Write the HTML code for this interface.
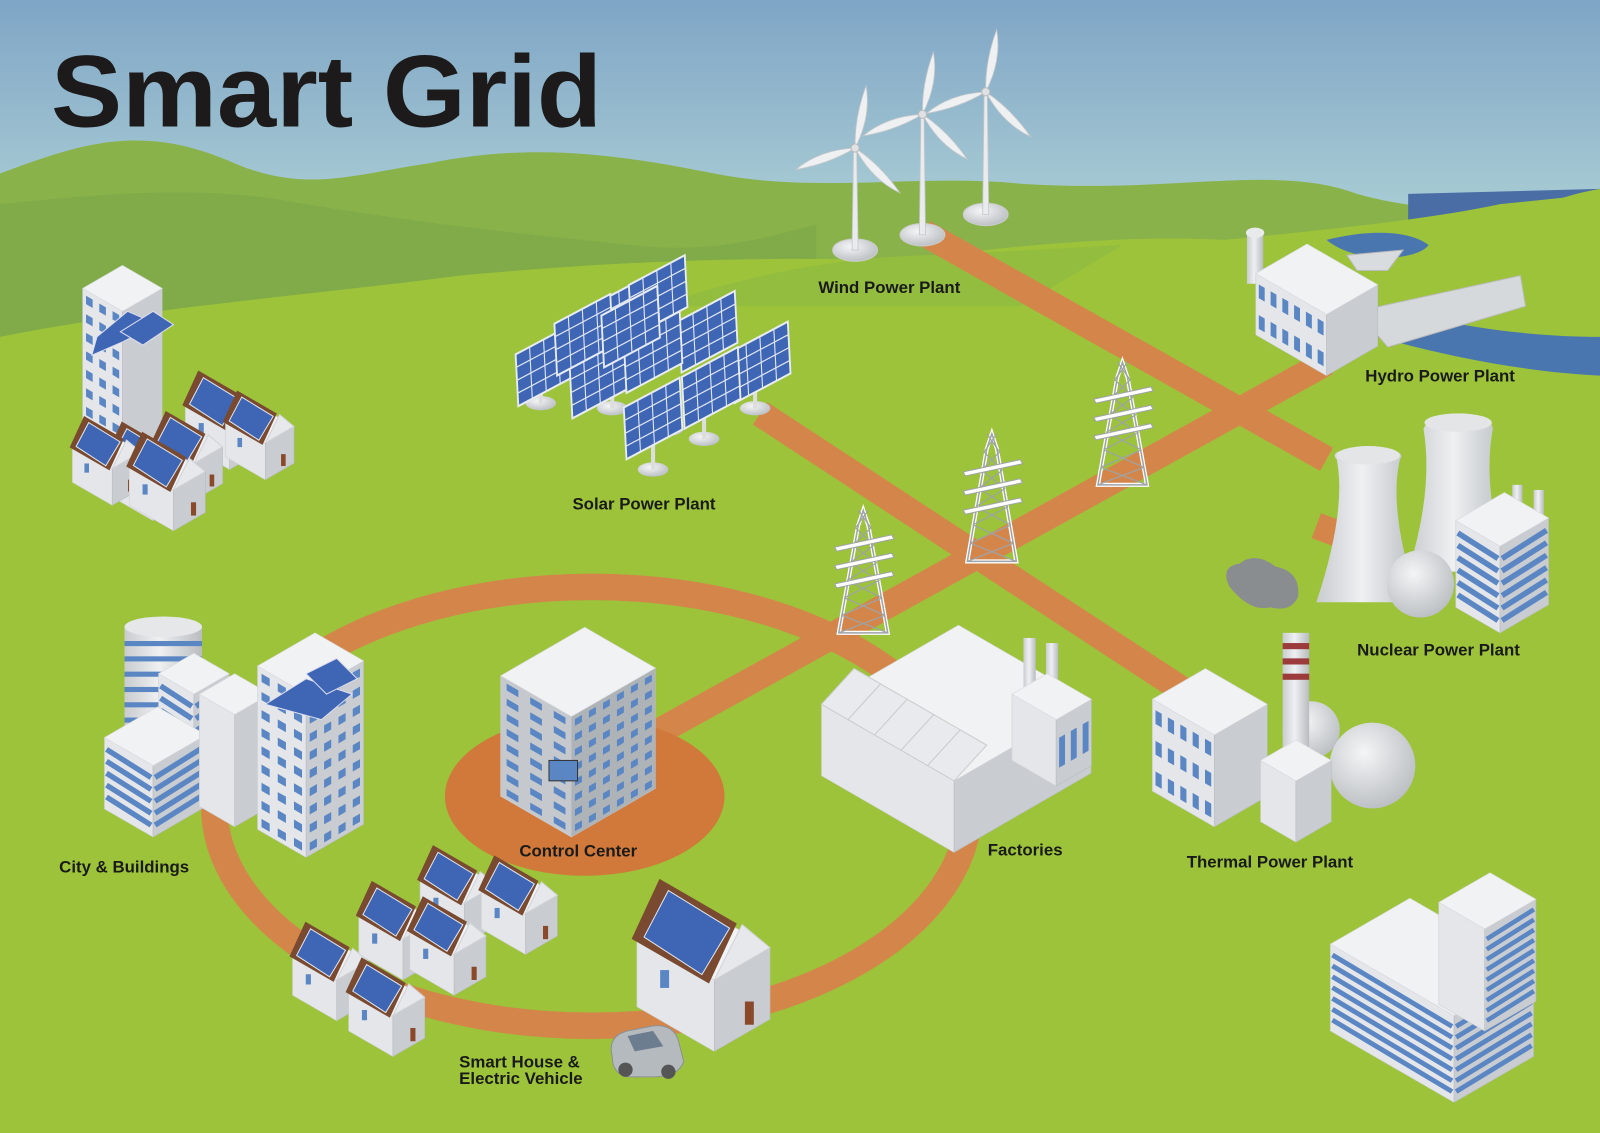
<!DOCTYPE html>
<html><head><meta charset="utf-8"><style>
html,body{margin:0;padding:0;width:1600px;height:1133px;overflow:hidden;background:#fff}
svg{display:block}
text{font-family:"Liberation Sans",sans-serif;font-weight:bold;fill:#1a1a1a}
</style></head><body>
<svg id="s" width="1600" height="1133" viewBox="0 0 1568 1110" preserveAspectRatio="none" xmlns="http://www.w3.org/2000/svg">
<defs>
<linearGradient id="sky" gradientUnits="userSpaceOnUse" x1="0" y1="0" x2="0" y2="210"><stop offset="0" stop-color="#7fa5c6"/><stop offset="1" stop-color="#a9cdd4"/></linearGradient>
<radialGradient id="ball" cx="0.4" cy="0.35" r="0.7"><stop offset="0" stop-color="#f4f5f6"/><stop offset="1" stop-color="#b9bdc1"/></radialGradient>
<linearGradient id="tower" x1="0" y1="0" x2="1" y2="0"><stop offset="0" stop-color="#c9ccd0"/><stop offset="0.45" stop-color="#eef0f1"/><stop offset="1" stop-color="#b8bcc0"/></linearGradient>
</defs>
<rect x="0" y="0" width="1568" height="1110" fill="url(#sky)"/>
<!-- hills -->
<path d="M0 170 C80 140 140 120 230 160 C300 190 350 170 420 160 C520 140 600 150 700 170 C800 190 900 170 1000 180 C1150 190 1250 160 1330 190 C1400 210 1450 200 1500 220 L1568 230 L1568 1110 L0 1110Z" fill="#89b24b"/>
<path d="M1380 190 L1568 185 L1568 360 L1380 360Z" fill="#4a6da6"/>
<path d="M0 200 C100 190 200 180 300 200 C420 220 520 230 620 240 C700 250 760 230 800 220 L800 400 L0 400Z" fill="#80ab48"/>
<path d="M0 330 C150 300 300 290 450 270 C560 260 700 250 880 255 C1000 240 1100 230 1200 235 C1300 225 1400 215 1470 200 L1568 190 L1568 1110 L0 1110Z" fill="#9cc33a"/>
<path d="M660 295 C760 260 860 250 920 250 L1100 240 L1000 300 L660 300Z" fill="#93bd3f"/>
<path d="M1440 255 C1490 200 1540 190 1568 185 L1568 330 C1520 320 1470 300 1440 255Z" fill="#9cc33a"/>
<path d="M1300 235 C1340 225 1380 225 1400 240 C1390 255 1330 260 1300 235Z" fill="#4a76b0"/>
<path d="M1360 300 C1420 320 1500 330 1568 330 L1568 368 C1500 365 1420 350 1350 330Z" fill="#4a76b0"/>
<!-- roads -->
<g stroke="#d4864a" stroke-width="26" fill="none" stroke-linecap="butt">
<line x1="905" y1="228" x2="1300" y2="450"/>
<line x1="1290" y1="515" x2="1330" y2="530"/>
<line x1="1300" y1="355" x2="640" y2="720"/>
<line x1="745" y1="405" x2="1165" y2="680"/>
<ellipse cx="580" cy="790" rx="370" ry="215" />
</g>
<ellipse cx="573" cy="780" rx="137" ry="78" fill="#d0793a"/>
<text x="50" y="124" font-size="100" textLength="540" lengthAdjust="spacingAndGlyphs" style="fill:#1c1a1a">Smart Grid</text>
<g id="g"></g>
<g font-size="16.5">
<text x="802" y="287">Wind Power Plant</text>
<text x="1338" y="374">Hydro Power Plant</text>
<text x="561" y="499">Solar Power Plant</text>
<text x="1330" y="642">Nuclear Power Plant</text>
<text x="509" y="839">Control Center</text>
<text x="968" y="838">Factories</text>
<text x="1163" y="850">Thermal Power Plant</text>
<text x="58" y="855">City &amp;  Buildings</text>
<text x="450" y="1046">Smart House &amp;</text>
<text x="450" y="1062">Electric Vehicle</text>
</g>
</svg>
<script>
var G=document.getElementById('g'),NS='http://www.w3.org/2000/svg';
function el(t,a){var e=document.createElementNS(NS,t);for(var k in a)e.setAttribute(k,a[k]);G.appendChild(e);return e;}
function P(pts){return pts.map(function(p){return p[0].toFixed(1)+','+p[1].toFixed(1)}).join(' ');}
var C=0.866;
function box(x,y,a,b,h,o){o=o||{};
 var L=[x-a*C,y-a/2],R=[x+b*C,y-b/2],B=[x-a*C+b*C,y-a/2-b/2];
 el('polygon',{points:P([[x,y],L,[L[0],L[1]-h],[x,y-h]]),fill:o.l||'#e4e6e9',stroke:'#cfd2d6','stroke-width':0.6});
 el('polygon',{points:P([[x,y],R,[R[0],R[1]-h],[x,y-h]]),fill:o.r||'#c9cdd1',stroke:'#b9bdc1','stroke-width':0.6});
 el('polygon',{points:P([[x,y-h],L.map(function(v,i){return i?v-h:v}),[B[0],B[1]-h],R.map(function(v,i){return i?v-h:v})]),fill:o.t||'#f1f2f4',stroke:'#d8dadd','stroke-width':0.6});
 if(o.sl){for(var i=1;i<o.sl;i++){var yy=h*i/o.sl;el('line',{x1:x-2,y1:y-yy,x2:L[0]+2,y2:L[1]-yy,stroke:'#5b86c4','stroke-width':Math.min(6,h/o.sl*0.45)});}}
 if(o.sr){for(var i=1;i<o.sr;i++){var yy=h*i/o.sr;el('line',{x1:x+2,y1:y-yy,x2:R[0]-2,y2:R[1]-yy,stroke:'#5b86c4','stroke-width':Math.min(6,h/o.sr*0.45)});}}
 if(o.wl){var r=o.wl[0],c=o.wl[1];for(var i=0;i<r;i++)for(var j=0;j<c;j++){var fx=(j+0.25)/c,fy=(i+0.3)/r;var px=x-a*C*fx,py=y-a/2*fx-h*(1-fy);
  el('polygon',{points:P([[px,py],[px-a*C*0.5/c,py-a/2*0.5/c],[px-a*C*0.5/c,py-a/2*0.5/c+h*0.45/r],[px,py+h*0.45/r]]),fill:'#5b86c4'});}}
 if(o.wr){var r=o.wr[0],c=o.wr[1];for(var i=0;i<r;i++)for(var j=0;j<c;j++){var fx=(j+0.25)/c,fy=(i+0.3)/r;var px=x+b*C*fx,py=y-b/2*fx-h*(1-fy);
  el('polygon',{points:P([[px,py],[px+b*C*0.5/c,py-b/2*0.5/c],[px+b*C*0.5/c,py-b/2*0.5/c+h*0.45/r],[px,py+h*0.45/r]]),fill:'#5b86c4'});}}
}
function panel(cx,cy,w,h,rot){
 var g=document.createElementNS(NS,'g');g.setAttribute('transform','translate('+cx+','+cy+') rotate('+rot+') skewX(-25)');G.appendChild(g);
 var r=document.createElementNS(NS,'rect');r.setAttribute('x',-w/2);r.setAttribute('y',-h/2);r.setAttribute('width',w);r.setAttribute('height',h);r.setAttribute('fill','#3f66b5');r.setAttribute('stroke','#e8ecf2');r.setAttribute('stroke-width',2);g.appendChild(r);
 for(var i=1;i<4;i++){var l=document.createElementNS(NS,'line');l.setAttribute('x1',-w/2+w*i/4);l.setAttribute('x2',-w/2+w*i/4);l.setAttribute('y1',-h/2);l.setAttribute('y2',h/2);l.setAttribute('stroke','#dfe6f0');l.setAttribute('stroke-width',1.2);g.appendChild(l);}
 for(var i=1;i<4;i++){var l=document.createElementNS(NS,'line');l.setAttribute('y1',-h/2+h*i/4);l.setAttribute('y2',-h/2+h*i/4);l.setAttribute('x1',-w/2);l.setAttribute('x2',w/2);l.setAttribute('stroke','#dfe6f0');l.setAttribute('stroke-width',1.2);g.appendChild(l);}
}
function house(x,y,s){
 var a=50*s,b=36*s,h=40*s;
 box(x,y,a,b,h,{});
 var L=[x-a*C,y-a/2-h],T=[x,y-h],R=[x+b*C,y-b/2-h];
 var ridgeF=[x+b*C/2,y-b/4-h-22*s],ridgeB=[ridgeF[0]-a*C,ridgeF[1]-a/2];
 el('polygon',{points:P([T,R,ridgeF]),fill:'#e6e8eb',stroke:'#cfd2d6'});
 el('polygon',{points:P([[x-3*s,y-h+2*s],[ridgeF[0]-3*s,ridgeF[1]-1],[ridgeB[0]-3*s,ridgeB[1]-1],[L[0]-3*s,L[1]+2*s]]),fill:'#7a4a30'});
 el('polygon',{points:P([[x-7*s,y-h-3*s],[ridgeF[0]-7*s,ridgeF[1]+2*s],[ridgeB[0]+2*s,ridgeB[1]+6*s],[L[0]+4*s,L[1]+1*s]]),fill:'#3f66b5',stroke:'#dfe6f0','stroke-width':1});
 el('rect',{x:x+b*C*0.55,y:y-b*0.275-18*s,width:5*s,height:13*s,fill:'#8a4a2a'});
 el('rect',{x:x-a*C*0.7,y:y-a*0.35-28*s,width:5*s,height:10*s,fill:'#5b86c4'});
}
function turbine(x,y,h){
 el('ellipse',{cx:x,cy:y,rx:22,ry:11,fill:'url(#ball)',stroke:'#ccc'});
 el('polygon',{points:P([[x-3,y],[x-1.5,y-h],[x+1.5,y-h],[x+3,y]]),fill:'#e9ebed',stroke:'#c4c7ca','stroke-width':0.8});
 var hx=x,hy=y-h;
 [-80,45,160].forEach(function(d){var ang=d*Math.PI/180;
  var ex=hx+Math.cos(ang)*62,ey=hy+Math.sin(ang)*62;
  el('path',{d:'M'+hx+' '+hy+' Q'+(hx+Math.cos(ang+0.3)*35)+' '+(hy+Math.sin(ang+0.3)*35)+' '+ex+' '+ey+' Q'+(hx+Math.cos(ang-0.2)*30)+' '+(hy+Math.sin(ang-0.2)*30)+' '+hx+' '+hy,fill:'#eef0f2',stroke:'#c4c7ca','stroke-width':0.8});});
 el('circle',{cx:hx,cy:hy,r:4,fill:'#dfe1e4',stroke:'#bbb'});
}
function pylon(x,y,h){
 var w=24,t=y-h,s='#9ea3a8';
 el('polygon',{points:P([[x-w,y],[x-5,t+15],[x,t],[x+5,t+15],[x+w,y]]),fill:'none',stroke:'#fff','stroke-width':4});
 el('polygon',{points:P([[x-w,y],[x-5,t+15],[x,t],[x+5,t+15],[x+w,y]]),fill:'none',stroke:s,'stroke-width':1.5});
 for(var i=0;i<7;i++){var y1=y-h*i/7,y2=y-h*(i+1)/7,f1=w*(1-i/7*0.8),f2=w*(1-(i+1)/7*0.8);
  el('line',{x1:x-f1,y1:y1,x2:x+f2,y2:y2,stroke:s,'stroke-width':1.2});el('line',{x1:x+f1,y1:y1,x2:x-f2,y2:y2,stroke:s,'stroke-width':1.2});}
 [0.25,0.4,0.55].forEach(function(f){var yy=t+h*f;el('polygon',{points:P([[x-28,yy+6],[x+28,yy-6],[x+30,yy-2],[x-26,yy+10]]),fill:'#fff',stroke:s,'stroke-width':1});});
}
turbine(838,245,100);turbine(904,230,118);turbine(966,210,120);
// hydro
el('rect',{x:1222,y:228,width:16,height:50,fill:'url(#tower)'});
el('ellipse',{cx:1230,cy:228,rx:9,ry:5,fill:'#e8eaec'});
el('polygon',{points:P([[1330,305],[1490,270],[1495,300],[1360,340]]),fill:'#d6d9dc',stroke:'#bbb'});
el('polygon',{points:P([[1320,250],[1375,245],[1360,265],[1330,265]]),fill:'#d9dcdf',stroke:'#bbb'});
box(1300,368,80,58,60,{wl:[2,6]});
// solar
[[600,400],[655,420],[530,395],[690,430],[740,400],[640,460]].forEach(function(p){el('ellipse',{cx:p[0],cy:p[1],rx:15,ry:7,fill:'url(#ball)'});el('rect',{x:p[0]-2,y:p[1]-35,width:4,height:35,fill:'#ddd'});});
[[534,358],[594,318],[645,290],[694,325],[746,355],[587,370],[640,345],[697,380],[640,410],[572,328],[618,320]].forEach(function(p){panel(p[0],p[1],62,46,-28);});
// pylons
pylon(1100,475,120);pylon(972,550,125);pylon(846,620,120);
// nuclear
el('path',{d:'M1310 450 Q1300 440 1340 438 Q1380 440 1372 450 Q1360 500 1390 590 L1290 590 Q1320 500 1310 450Z',fill:'url(#tower)'});
el('ellipse',{cx:1341,cy:446,rx:31,ry:9,fill:'#e3e5e7'});
el('path',{d:'M1395 420 Q1400 408 1430 407 Q1462 408 1463 420 Q1452 480 1478 560 L1380 560 Q1405 480 1395 420Z',fill:'url(#tower)'});
el('ellipse',{cx:1429,cy:414,rx:33,ry:9,fill:'#e3e5e7'});
el('circle',{cx:1392,cy:572,r:33,fill:'url(#ball)'});
el('rect',{x:1482,y:475,width:10,height:40,fill:'url(#tower)'});el('rect',{x:1503,y:480,width:10,height:40,fill:'url(#tower)'});
box(1470,620,50,55,85,{sl:7,sr:7});
// thermal
el('path',{d:'M1205 575 Q1195 555 1215 552 Q1230 540 1250 555 Q1275 560 1272 585 Q1265 600 1245 595 Q1225 600 1205 575Z',fill:'#8a8d90'});
el('circle',{cx:1285,cy:715,r:28,fill:'url(#ball)'});
el('circle',{cx:1345,cy:750,r:42,fill:'url(#ball)'});
box(1190,810,70,60,90,{wl:[3,5]});
el('rect',{x:1257,y:620,width:26,height:150,fill:'url(#tower)'});
[630,645,660].forEach(function(yy){el('rect',{x:1257,y:yy,width:26,height:6,fill:'#9b3b3b'});});
box(1270,825,40,40,60,{});
// factory
box(935,835,150,155,70,{});
for(var i=0;i<5;i++){var bx=935-i*26,by=835-i*15-70;el('polygon',{points:P([[bx,by],[bx-26,by-15],[bx+6,by-50],[bx+32,by-35]]),fill:'#e8eaed',stroke:'#ccc'});}
el('rect',{x:1003,y:625,width:12,height:55,fill:'url(#tower)'});el('rect',{x:1025,y:630,width:12,height:55,fill:'url(#tower)'});
box(1035,770,50,40,65,{wr:[1,3]});
// control center
box(560,820,80,95,118,{l:'#c5c9ce',r:'#aeb3b8',wl:[8,3],wr:[8,6]});
el('rect',{x:538,y:745,width:28,height:20,fill:'#5b86c4',stroke:'#333'});
// left city top
box(120,450,45,45,145,{wl:[8,3]});
el('polygon',{points:P([[90,348],[120,335],[155,318],[125,305],[95,330]]),fill:'#3f66b5',stroke:'#dde'});
el('polygon',{points:P([[118,325],[150,305],[170,318],[140,338]]),fill:'#3f66b5',stroke:'#dde'});
house(225,460,1);house(260,470,0.9);house(190,490,0.9);house(150,510,1);house(110,495,0.9);house(170,520,1);
// left city bottom
el('rect',{x:122,y:615,width:76,height:100,fill:'url(#tower)'});
for(var i=0;i<6;i++)el('rect',{x:122,y:628+i*15,width:76,height:5,fill:'#5b86c4'});
el('ellipse',{cx:160,cy:614,rx:38,ry:10,fill:'#e5e7e9'});
box(190,740,40,40,60,{sl:5,sr:5});
box(150,820,55,60,70,{sl:6,sr:6});
box(230,810,40,40,110,{});
box(300,840,55,65,160,{wl:[9,3],wr:[9,4]});
el('polygon',{points:P([[260,690],[300,665],[345,680],[315,705]]),fill:'#3f66b5',stroke:'#dde'});
el('polygon',{points:P([[300,660],[330,645],[350,665],[320,680]]),fill:'#3f66b5',stroke:'#dde'});
// houses bottom
house(455,925,1);house(515,935,1);house(395,960,1);house(445,975,1);house(330,1000,1);house(385,1035,1);
house(700,1030,1.75);
// car
el('path',{d:'M600 1035 Q595 1015 615 1010 L640 1005 Q660 1003 665 1020 L670 1040 Q665 1055 640 1055 L615 1055 Q600 1052 600 1035Z',fill:'#b5babf',stroke:'#8c9196'});
el('polygon',{points:P([[615,1015],[640,1010],[650,1025],[622,1030]]),fill:'#6d7d90'});
el('circle',{cx:613,cy:1048,r:7,fill:'#555'});el('circle',{cx:655,cy:1050,r:7,fill:'#555'});
// bottom right buildings
box(1425,1080,140,90,85,{sl:8,sr:8});
box(1455,1010,52,58,100,{sr:10});
</script>
</body></html>
